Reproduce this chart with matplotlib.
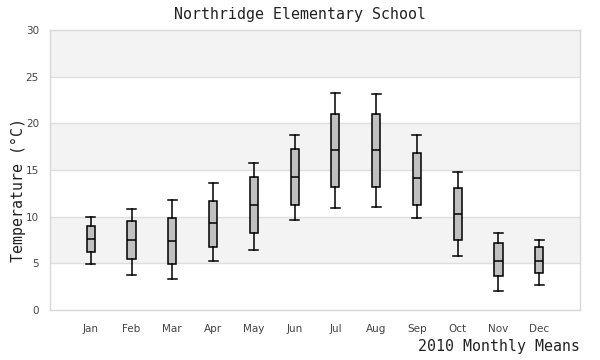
import numpy as np
import matplotlib
matplotlib.use('Agg')
import matplotlib.pyplot as plt

## monthly stats (deg C)
months = ['Jan', 'Feb', 'Mar', 'Apr', 'May', 'Jun',
          'Jul', 'Aug', 'Sep', 'Oct', 'Nov', 'Dec']
whisker_lo = [4.9, 3.8, 3.3, 5.3, 6.4, 9.6, 10.9, 11.0, 9.9, 5.75, 2.0, 2.65]
box_lo = [6.2, 5.45, 4.9, 6.8, 8.2, 11.3, 13.15, 13.15, 11.3, 7.45, 3.6, 3.95]
median = [7.6, 7.45, 7.35, 9.3, 11.2, 14.25, 17.1, 17.1, 14.1, 10.25, 5.3, 5.3]
box_hi = [9.0, 9.5, 9.85, 11.65, 14.2, 17.2, 20.95, 20.95, 16.8, 13.05, 7.15, 6.7]
whisker_hi = [10.0, 10.8, 11.75, 13.6, 15.8, 18.8, 23.2, 23.1, 18.7, 14.75, 8.3, 7.55]

yticks = [0, 5, 10, 15, 20, 25, 30]


def main():
    stats = []
    for i, m in enumerate(months):
        stats.append({'label': m, 'whislo': whisker_lo[i], 'q1': box_lo[i],
                      'med': median[i], 'q3': box_hi[i], 'whishi': whisker_hi[i],
                      'fliers': []})

    fig = plt.figure(figsize=(6, 3.6), dpi=100)
    ax = fig.add_axes([50/600, 50/360, 530/600, 280/360])

    ## alternating bands
    for k in range(len(yticks) - 1):
        if k % 2 == 1:
            ax.axhspan(yticks[k], yticks[k+1], color='#f3f3f3', zorder=0, lw=0)
    for t in yticks[1:-1]:
        ax.axhline(t, color='#dedede', lw=1, zorder=1)

    pos = np.arange(1, len(months) + 1)
    ax.bxp(stats, positions=pos, widths=0.2, patch_artist=True,
           boxprops=dict(facecolor='#c0c0c0', edgecolor='black', lw=1.1),
           medianprops=dict(color='black', lw=1.1),
           whiskerprops=dict(color='black', lw=1.1),
           capprops=dict(color='black', lw=1.1),
           capwidths=0.22, zorder=3)

    ax.set_xlim(0, 13)
    ax.set_ylim(0, 30)
    ax.set_yticks(yticks)
    ax.set_xticks(pos)
    ax.set_xticklabels(months)
    ax.tick_params(length=0, labelsize=7.5, colors='#444444', pad=10)
    ax.tick_params(axis='y', pad=8)
    for s in ax.spines.values():
        s.set_color('#d8d8d8')
        s.set_linewidth(1)

    fig.text(0.5, 0.96, 'Northridge Elementary School', ha='center', va='center',
             family='DejaVu Sans Mono', fontsize=10.7, color='#222222')
    fig.text(580/600, 13/360, '2010 Monthly Means', ha='right', va='center',
             family='DejaVu Sans Mono', fontsize=10.7, color='#222222')
    fig.text(18/600, (360-190)/360, 'Temperature (°C)', rotation=90,
             ha='center', va='center', family='DejaVu Sans Mono', fontsize=10.7,
             color='#222222')

    fig.savefig('out.png', dpi=100)


if __name__ == '__main__':
    main()
